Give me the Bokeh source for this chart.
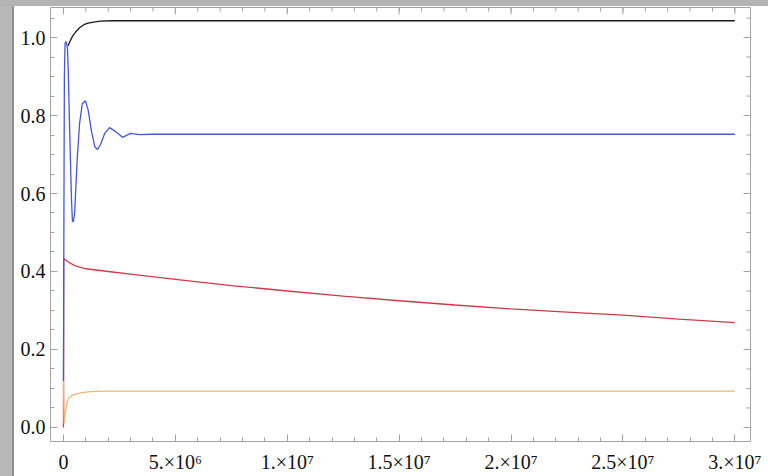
import math

from bokeh.plotting import figure
from bokeh.models import Range1d, FixedTicker, LinearAxis, PrintfTickFormatter, Div
from bokeh.layouts import column, row
from bokeh.embed import file_html
from bokeh.resources import INLINE

# time samples and solution values for the four components
black_t = [2.0e5, 2.4e5, 4.0e5, 5.4e5, 7.2e5, 9.1e5, 1.1e6, 1.28e6, 1.65e6, 2.2e6, 3.0e7]
black_y = [0.978, 0.984, 1.003, 1.014, 1.025, 1.033, 1.037, 1.039, 1.042, 1.043, 1.043]

blue_t = [0, 2e4, 4e4, 7e4, 1.0e5, 1.4e5, 1.8e5, 2.2e5, 2.6e5, 3.1e5, 3.6e5, 4.0e5, 4.4e5,
          5.0e5, 6.1e5, 7.2e5, 8.4e5, 9.8e5, 1.1e6, 1.25e6, 1.4e6, 1.52e6, 1.65e6, 1.85e6,
          2.06e6, 2.3e6, 2.64e6, 3.0e6, 3.4e6, 4.0e6, 3.0e7]
blue_y = [0.12, 0.55, 0.90, 0.985, 0.99, 0.985, 0.97, 0.90, 0.80, 0.685, 0.58, 0.53, 0.527,
          0.55, 0.685, 0.78, 0.83, 0.838, 0.815, 0.76, 0.72, 0.713, 0.725, 0.755,
          0.769, 0.76, 0.744, 0.754, 0.751, 0.752, 0.752]

red_t = [0, 1e4, 2e5, 5e5, 1e6, 2e6, 3e6, 5e6, 7.5e6, 1.0e7, 1.25e7, 1.5e7, 1.75e7,
         2.0e7, 2.25e7, 2.5e7, 2.75e7, 3.0e7]
red_y = [0.0, 0.433, 0.425, 0.415, 0.407, 0.400, 0.393, 0.380, 0.364, 0.350, 0.337, 0.325,
         0.314, 0.304, 0.296, 0.288, 0.278, 0.269]

orange_t = [0, 3e4, 8e4, 1.5e5, 2.2e5, 4.0e5, 6.3e5, 9.0e5, 1.2e6, 2.0e6, 3.0e7]
orange_y = [0.12, 0.01, 0.04, 0.062, 0.074, 0.083, 0.087, 0.090, 0.092, 0.093, 0.093]

x_ticks = [0, 5000000, 10000000, 15000000, 20000000, 25000000, 30000000]
x_labels = ["0", "5.×10⁶", "1.×10⁷", "1.5×10⁷", "2.×10⁷", "2.5×10⁷", "3.×10⁷"]
x_minor = [i * 1000000 for i in range(0, 31)]
y_ticks = [0.0, 0.2, 0.4, 0.6, 0.8, 1.0]
y_minor = [round(i * 0.05, 2) for i in range(0, 22)]

X_LO, X_HI = -0.58e6, 30.7e6
Y_LO, Y_HI = -0.036, 1.077

FRAME = "#a3a3a3"
FONT = "Liberation Serif"

p = figure(frame_width=700, frame_height=434, output_backend="svg", toolbar_location=None,
           x_range=Range1d(X_LO, X_HI), y_range=Range1d(Y_LO, Y_HI),
           min_border_left=36, min_border_right=18, min_border_top=1, min_border_bottom=35,
           x_axis_location=None, y_axis_location=None)
p.grid.visible = False
p.background_fill_color = "white"
p.border_fill_color = "white"
p.outline_line_color = FRAME
p.outline_line_width = 1


def style_axis(ax, ticks, minor):
    ax.ticker = FixedTicker(ticks=ticks, minor_ticks=minor)
    ax.axis_line_color = None
    ax.major_tick_line_color = FRAME
    ax.minor_tick_line_color = FRAME
    ax.major_tick_in = 7
    ax.major_tick_out = 0
    ax.minor_tick_in = 4
    ax.minor_tick_out = 0
    ax.major_label_text_font = FONT
    ax.major_label_text_color = "#111111"
    ax.major_label_text_font_size = "20px"


xb = LinearAxis()
style_axis(xb, x_ticks, x_minor)
xb.major_label_overrides = dict(zip(x_ticks, x_labels))
xb.major_label_standoff = 9
p.add_layout(xb, "below")

yl = LinearAxis()
style_axis(yl, y_ticks, y_minor)
yl.formatter = PrintfTickFormatter(format="%.1f")
yl.major_label_standoff = 5
p.add_layout(yl, "left")

# frame ticks on the top and right edges, pointing into the plot
tick_kw = dict(line_color=FRAME, line_width=1, length_units="screen")
p.ray(x=x_ticks, y=[Y_HI] * len(x_ticks), length=7, angle=-math.pi / 2, **tick_kw)
p.ray(x=x_minor, y=[Y_HI] * len(x_minor), length=4, angle=-math.pi / 2, **tick_kw)
p.ray(x=[X_HI] * len(y_ticks), y=y_ticks, length=7, angle=math.pi, **tick_kw)
p.ray(x=[X_HI] * len(y_minor), y=y_minor, length=4, angle=math.pi, **tick_kw)

p.line(black_t, black_y, line_color="#1a1a1a", line_width=1.3)
p.line(red_t, red_y, line_color="#cf3a48", line_width=1.3)
p.line(orange_t, orange_y, line_color="#f0b574", line_width=1.3)
p.line(blue_t, blue_y, line_color="#4657d8", line_width=1.3)

top_bar = Div(width=768, height=6, margin=0, styles={"background-color": "#b3b3b3"})
side_bar = Div(width=14, height=470, margin=0,
               styles={"background": "linear-gradient(to right, #b7b7b7 12px, #8e8e8e 12px)"})
page = column(top_bar, row(side_bar, p, spacing=0), spacing=0)

open("out.html", "w").write(file_html(page, INLINE))
